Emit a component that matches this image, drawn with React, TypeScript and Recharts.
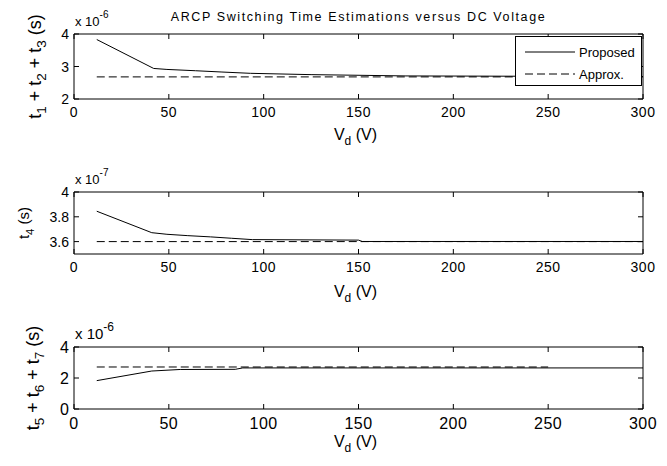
import { Legend, Line, LineChart, ReferenceArea, XAxis, YAxis } from 'recharts'

const W = 667
const H = 466
const PLOT_LEFT = 74
const PLOT_RIGHT = 643
const Y_AXIS_W = 60
const X_AXIS_H = 50
const FONT = '"Liberation Sans", Arial, sans-serif'
const DASH = '8 4'

const voltTicks = [0, 50, 100, 150, 200, 250, 300]

// t1 + t2 + t3, in units of 10^-6 s
const t123Volts = [12, 42, 49, 64, 78, 93, 125, 175, 300]
const t123Proposed = [3.83, 2.94, 2.91, 2.87, 2.83, 2.79, 2.75, 2.71, 2.69]
const t123ApproxVolts = [12, 300]
const t123Approx = [2.68, 2.68]
const t123Ticks = [2, 3, 4]

// t4, in units of 10^-7 s
const t4Volts = [12, 41, 49, 60, 72, 83, 94, 150, 152, 300]
const t4Proposed = [3.845, 3.672, 3.659, 3.648, 3.638, 3.627, 3.616, 3.612, 3.601, 3.601]
const t4ApproxVolts = [12, 300]
const t4Approx = [3.6, 3.6]
const t4Ticks = [3.6, 3.8, 4]

// t5 + t6 + t7, in units of 10^-6 s
const t567Volts = [12, 41, 56, 85, 89, 300]
const t567Proposed = [1.83, 2.45, 2.55, 2.56, 2.65, 2.65]
const t567ApproxVolts = [12, 250]
const t567Approx = [2.71, 2.71]
const t567Ticks = [0, 2, 4]

const seriesOrder = ['Proposed', 'Approx.']
const legendDash: Record<string, string | undefined> = { Proposed: undefined, 'Approx.': DASH }

const toPoints = (volts: number[], vals: number[]) => volts.map((v, i) => ({ v, y: vals[i] }))

function XTick({ x, y, payload, plotH, fontSize }: any) {
  return (
    <g>
      <line x1={x} y1={y} x2={x} y2={y - 5} stroke="#000" />
      <line x1={x} y1={y - plotH} x2={x} y2={y - plotH + 5} stroke="#000" />
      <text
        x={x}
        y={y + fontSize + 4}
        textAnchor="middle"
        fontSize={fontSize}
        fontFamily={FONT}
        letterSpacing={0.5}
        fill="#000"
      >
        {payload.value}
      </text>
    </g>
  )
}

function YTick({ x, y, payload, fontSize }: any) {
  const plotW = PLOT_RIGHT - PLOT_LEFT
  return (
    <g>
      <line x1={x} y1={y} x2={x + 5} y2={y} stroke="#000" />
      <line x1={x + plotW - 5} y1={y} x2={x + plotW} y2={y} stroke="#000" />
      <text x={x - 5} y={y} dy="0.36em" textAnchor="end" fontSize={fontSize} fontFamily={FONT} fill="#000">
        {payload.value}
      </text>
    </g>
  )
}

function XLabel({ viewBox, gap, fontSize }: any) {
  const cx = viewBox.x + viewBox.width / 2 - 3
  const y = viewBox.y + gap
  return (
    <text x={cx} y={y} textAnchor="middle" fontSize={fontSize} fontFamily={FONT} fill="#000">
      V
      <tspan dy={5} fontSize={fontSize * 0.75}>d</tspan>
      <tspan dy={-5}> (V)</tspan>
    </text>
  )
}

function YLabel({ viewBox, parts, baseX, exponent, fontSize, expSize }: any) {
  const cy = viewBox.y + viewBox.height / 2
  const sub = fontSize * 0.75
  const shift = Math.round(fontSize * 0.3)
  return (
    <g>
      <text
        x={baseX}
        y={cy}
        transform={`rotate(-90, ${baseX}, ${cy})`}
        textAnchor="middle"
        fontSize={fontSize}
        fontFamily={FONT}
        fill="#000"
      >
        {parts.map((p: string, i: number) => (
          <tspan key={i}>
            <tspan>t</tspan>
            <tspan dy={shift} fontSize={sub}>{p}</tspan>
            <tspan dy={-shift}>{i < parts.length - 1 ? ' + ' : ' (s)'}</tspan>
          </tspan>
        ))}
      </text>
      <text x={PLOT_LEFT + 1} y={viewBox.y - 8} fontSize={expSize} fontFamily={FONT} fill="#000">
        x 10
        <tspan dy={-8} fontSize={expSize - 3}>{exponent}</tspan>
      </text>
    </g>
  )
}

function LegendBox({ payload }: any) {
  const items = [...(payload || [])].sort(
    (a: any, b: any) => seriesOrder.indexOf(a.value) - seriesOrder.indexOf(b.value),
  )
  return (
    <div
      style={{
        width: 127,
        height: 50,
        boxSizing: 'border-box',
        border: '1px solid #000',
        background: '#fff',
        fontFamily: FONT,
        fontSize: 13,
        padding: '4px 0 0 9px',
      }}
    >
      {items.map((entry: any) => (
        <div key={entry.value} style={{ display: 'flex', alignItems: 'center', height: 22 }}>
          <svg width={50} height={6} style={{ marginRight: 4 }}>
            <line x1={0} y1={3} x2={50} y2={3} stroke="#000" strokeDasharray={legendDash[entry.value]} />
          </svg>
          <span>{entry.value}</span>
        </div>
      ))}
    </div>
  )
}

interface PanelProps {
  top: number
  bottom: number
  domain: [number, number]
  ticks: number[]
  proposed: { v: number; y: number }[]
  approx: { v: number; y: number }[]
  parts: string[]
  exponent: string
  fontSize: number
  yLabelSize: number
  labelX: number
  xLabelGap: number
  legend?: boolean
}

function Panel({
  top,
  bottom,
  domain,
  ticks,
  proposed,
  approx,
  parts,
  exponent,
  fontSize,
  yLabelSize,
  labelX,
  xLabelGap,
  legend,
}: PanelProps) {
  const plotH = bottom - top
  return (
    <div style={{ position: 'absolute', left: 0, top: 0 }}>
      <LineChart
        width={W}
        height={H}
        margin={{ top, right: W - PLOT_RIGHT, bottom: H - bottom - X_AXIS_H, left: PLOT_LEFT - Y_AXIS_W }}
      >
        <XAxis
          type="number"
          dataKey="v"
          domain={[0, 300]}
          ticks={voltTicks}
          allowDataOverflow
          axisLine={false}
          tickLine={false}
          tickSize={0}
          tickMargin={0}
          height={X_AXIS_H}
          tick={(p: any) => <XTick {...p} plotH={plotH} fontSize={fontSize} />}
          label={<XLabel gap={xLabelGap} fontSize={16} />}
        />
        <YAxis
          type="number"
          domain={domain}
          ticks={ticks}
          allowDataOverflow
          axisLine={false}
          tickLine={false}
          tickSize={0}
          tickMargin={0}
          width={Y_AXIS_W}
          tick={(p: any) => <YTick {...p} fontSize={fontSize} />}
          label={
            <YLabel parts={parts} baseX={labelX} exponent={exponent} fontSize={yLabelSize} expSize={fontSize - 1} />
          }
        />
        <Line
          data={proposed}
          dataKey="y"
          name="Proposed"
          stroke="#000"
          strokeWidth={1}
          dot={false}
          activeDot={false}
          isAnimationActive={false}
        />
        <Line
          data={approx}
          dataKey="y"
          name="Approx."
          stroke="#000"
          strokeWidth={1}
          strokeDasharray={DASH}
          dot={false}
          activeDot={false}
          isAnimationActive={false}
        />
        <ReferenceArea
          x1={0}
          x2={300}
          y1={domain[0]}
          y2={domain[1]}
          fill="none"
          stroke="#000"
          strokeWidth={1}
          ifOverflow="visible"
        />
        {legend && (
          <Legend
            layout="vertical"
            align="center"
            verticalAlign="middle"
            content={<LegendBox />}
            wrapperStyle={{ left: 515, top: 36, width: 127 }}
          />
        )}
      </LineChart>
    </div>
  )
}

export default function App() {
  return (
    <div style={{ position: 'absolute', left: 0, top: 0, width: W, height: H, background: '#fff', overflow: 'hidden' }}>
      <div
        style={{
          position: 'absolute',
          left: PLOT_LEFT,
          width: PLOT_RIGHT - PLOT_LEFT,
          top: 10,
          textAlign: 'center',
          fontFamily: FONT,
          fontSize: 12.5,
          letterSpacing: 1.6,
          zIndex: 2,
        }}
      >
        ARCP Switching Time Estimations versus DC Voltage
      </div>
      <Panel
        top={34}
        bottom={99}
        domain={[2, 4]}
        ticks={t123Ticks}
        proposed={toPoints(t123Volts, t123Proposed)}
        approx={toPoints(t123ApproxVolts, t123Approx)}
        parts={['1', '2', '3']}
        exponent="-6"
        fontSize={14}
        yLabelSize={18}
        labelX={41}
        xLabelGap={41}
        legend
      />
      <Panel
        top={192}
        bottom={254}
        domain={[3.5, 4]}
        ticks={t4Ticks}
        proposed={toPoints(t4Volts, t4Proposed)}
        approx={toPoints(t4ApproxVolts, t4Approx)}
        parts={['4']}
        exponent="-7"
        fontSize={14}
        yLabelSize={15}
        labelX={29}
        xLabelGap={43}
      />
      <Panel
        top={347}
        bottom={409}
        domain={[0, 4]}
        ticks={t567Ticks}
        proposed={toPoints(t567Volts, t567Proposed)}
        approx={toPoints(t567ApproxVolts, t567Approx)}
        parts={['5', '6', '7']}
        exponent="-6"
        fontSize={16}
        yLabelSize={18}
        labelX={39}
        xLabelGap={38}
      />
    </div>
  )
}
